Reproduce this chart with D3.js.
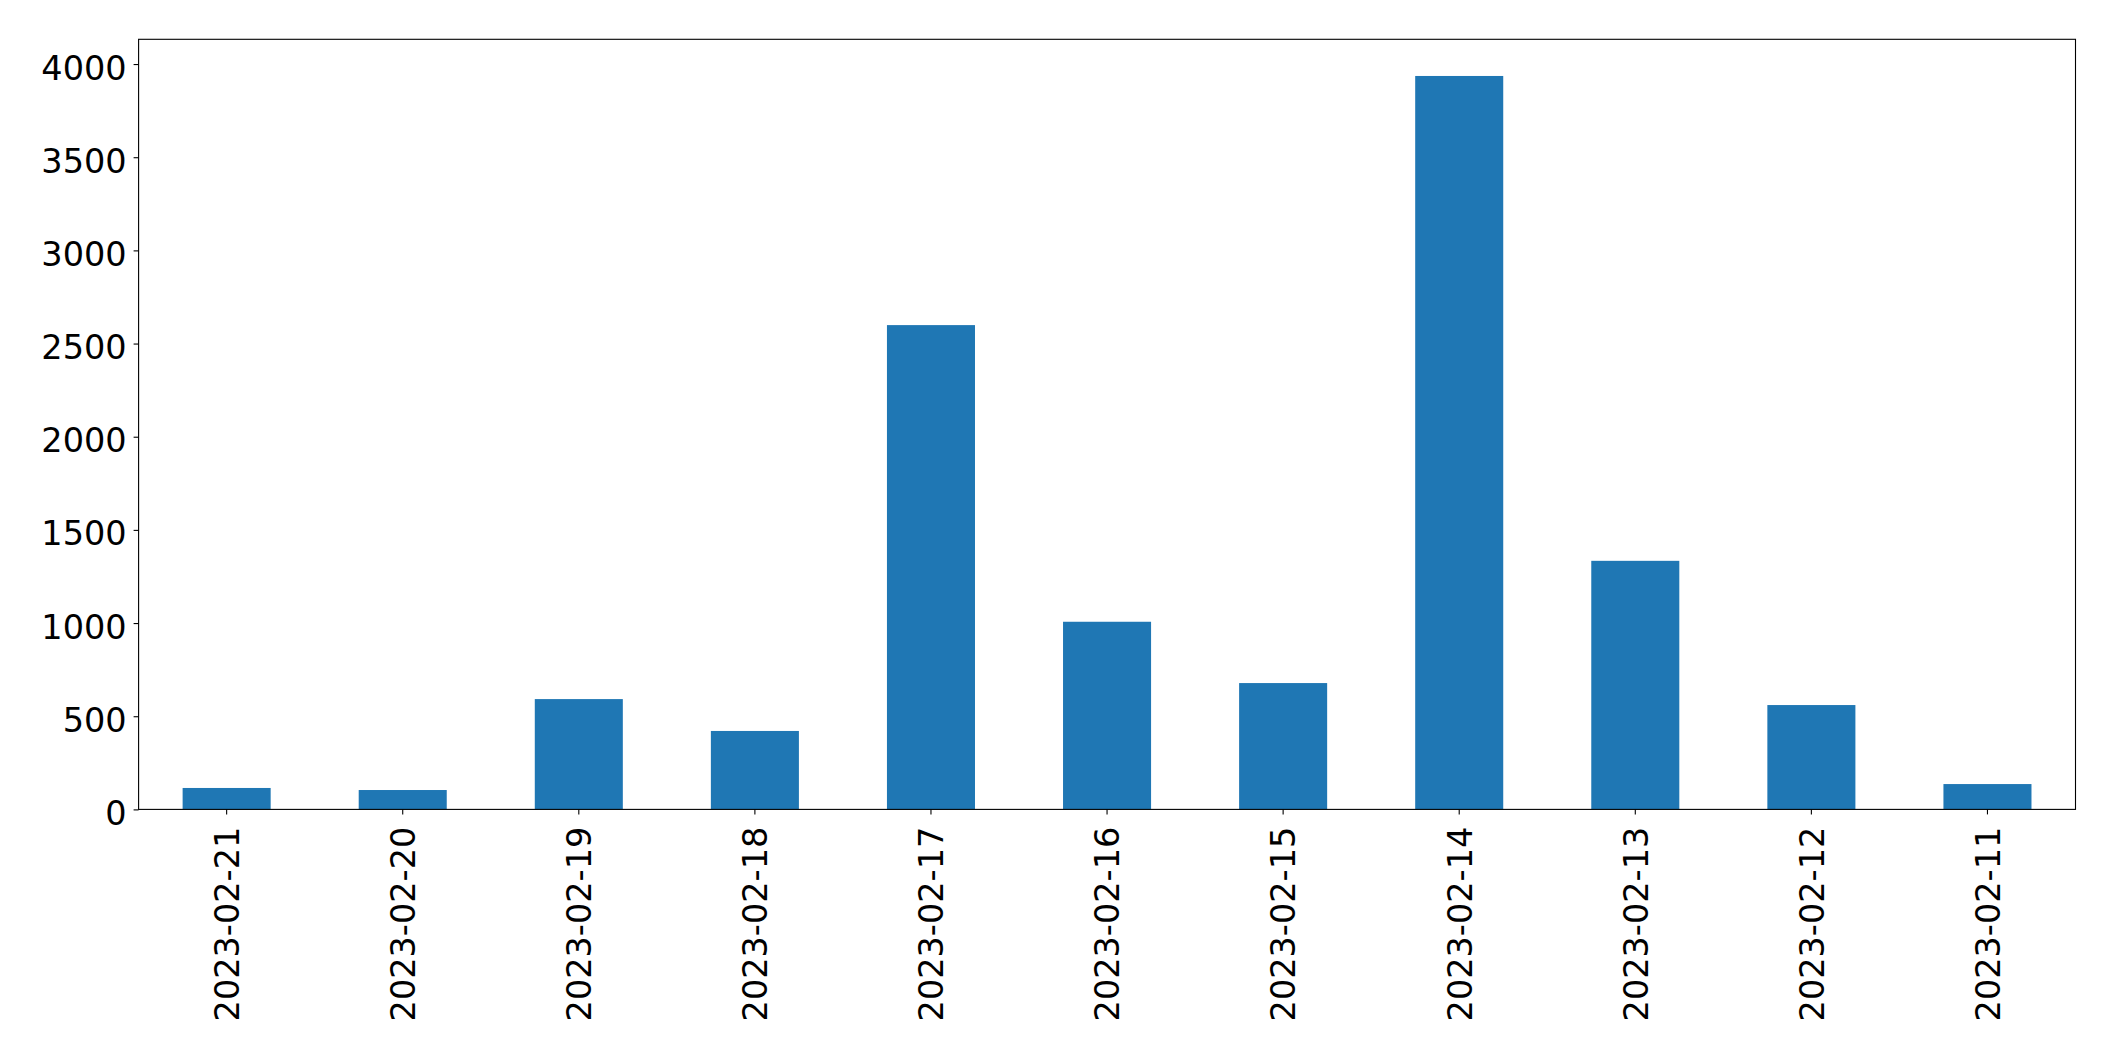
<!DOCTYPE html>
<html>
<head>
<meta charset="utf-8">
<script src="https://cdn.jsdelivr.net/npm/d3@7"></script>
<style>
  html, body { margin: 0; padding: 0; background: #fff; }
  svg { display: block; }
  text { font-family: "DejaVu Sans", sans-serif; fill: #000; }
</style>
</head>
<body>
<svg id="chart" width="2115" height="1061"></svg>
<script>
const categories = ["2023-02-21","2023-02-20","2023-02-19","2023-02-18","2023-02-17","2023-02-16","2023-02-15","2023-02-14","2023-02-13","2023-02-12","2023-02-11"];
const values = [115, 104, 592, 421, 2599, 1007, 678, 3936, 1334, 560, 136];
const yTicks = [0, 500, 1000, 1500, 2000, 2500, 3000, 3500, 4000];

const W = 2115, H = 1061;
const plot = { left: 138.6, right: 2075.5, top: 39.3, bottom: 809.4 };
const fontSize = 33.5;

const svg = d3.select("#chart");

const x = d3.scaleBand()
  .domain(categories)
  .range([plot.left, plot.right])
  .paddingInner(0.5)
  .paddingOuter(0.25);

const y = d3.scaleLinear()
  .domain([0, d3.max(values) * 1.05])
  .range([plot.bottom, plot.top]);

// bars
svg.append("g")
  .selectAll("rect")
  .data(categories.map((c, i) => ({ c, v: values[i] })))
  .join("rect")
  .attr("x", d => x(d.c))
  .attr("width", x.bandwidth())
  .attr("y", d => y(d.v))
  .attr("height", d => y(0) - y(d.v))
  .attr("fill", "#1f77b4");

// y axis
const yAxis = svg.append("g")
  .attr("transform", `translate(${plot.left},0)`)
  .call(d3.axisLeft(y).tickValues(yTicks).tickFormat(d3.format("d")).tickSize(5).tickPadding(7));
yAxis.select(".domain").remove();
yAxis.selectAll(".tick line").attr("stroke", "#000").attr("stroke-width", 1.1);
yAxis.selectAll(".tick text")
  .attr("dy", "0.45em")
  .style("font-size", fontSize + "px")
  .style("font-family", "'DejaVu Sans', sans-serif")
  .attr("fill", "#000");

// x axis
const xAxis = svg.append("g")
  .attr("transform", `translate(0,${plot.bottom})`)
  .call(d3.axisBottom(x).tickSize(5));
xAxis.select(".domain").remove();
xAxis.selectAll(".tick line").attr("stroke", "#000").attr("stroke-width", 1.1);
xAxis.selectAll(".tick text")
  .attr("x", 0).attr("y", 0).attr("dy", 0)
  .attr("text-anchor", "end")
  .attr("transform", "translate(12.3,17.3) rotate(-90)")
  .style("font-size", fontSize + "px")
  .style("font-family", "'DejaVu Sans', sans-serif")
  .attr("fill", "#000");

// frame
svg.append("rect")
  .attr("x", plot.left)
  .attr("y", plot.top)
  .attr("width", plot.right - plot.left)
  .attr("height", plot.bottom - plot.top)
  .attr("fill", "none")
  .attr("stroke", "#000")
  .attr("stroke-width", 1.1);
</script>
</body>
</html>
